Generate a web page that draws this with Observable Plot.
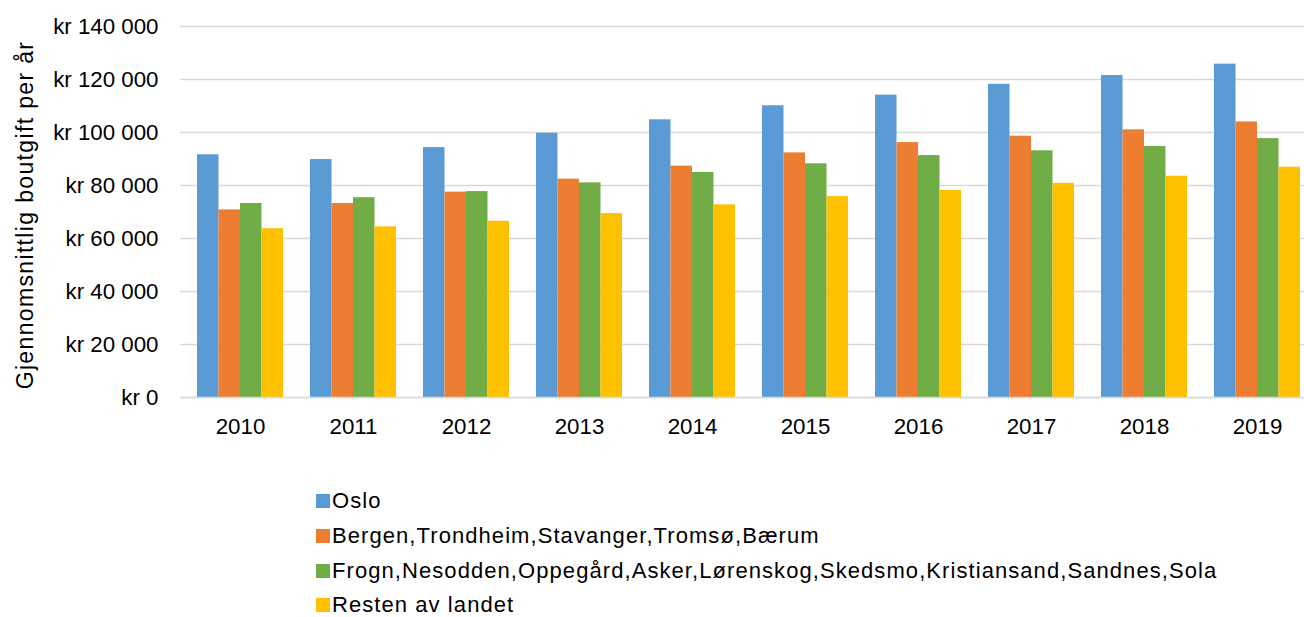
<!DOCTYPE html>
<html>
<head>
<meta charset="utf-8">
<script src="https://cdn.jsdelivr.net/npm/d3@7"></script>
<script src="https://cdn.jsdelivr.net/npm/@observablehq/plot@0.6"></script>
<style>
  html, body { margin: 0; padding: 0; background: #fff; overflow: hidden; }
  #wrap { position: relative; width: 1304px; height: 617px; overflow: hidden;
          font-family: "Liberation Sans", Arial, sans-serif; color: #000; }
  #chart { position: absolute; left: 0; top: 0; width: 1316px; }
  #chart svg { max-width: none !important; width: 1316px !important; height: 447px !important; }
  #ytitle { position: absolute; left: 25px; top: 215px; white-space: nowrap;
            transform: translate(-50%, -50%) rotate(-90deg);
            font-size: 23px; letter-spacing: 1.35px; line-height: 1; }
  #legend { position: absolute; left: 316px; top: 484px; }
  .row { display: flex; align-items: center; height: 34.7px; font-size: 22px; letter-spacing: 1.07px; }
  .sw { width: 14px; height: 14px; margin-right: 2px; flex: none; }
</style>
</head>
<body>
<div id="wrap">
  <div id="chart"></div>
  <div id="ytitle"></div>
  <div id="legend"></div>
</div>
<script>
const years = ["2010","2011","2012","2013","2014","2015","2016","2017","2018","2019"];
const seriesNames = [
  "Oslo",
  "Bergen,Trondheim,Stavanger,Tromsø,Bærum",
  "Frogn,Nesodden,Oppegård,Asker,Lørenskog,Skedsmo,Kristiansand,Sandnes,Sola",
  "Resten av landet"
];
const oslo   = [91600, 89800, 94300, 99700, 104800, 110100, 114100, 118200, 121500, 125800];
const bergen = [70800, 73200, 77500, 82400, 87300, 92300, 96200, 98600, 101000, 104000];
const frogn  = [73200, 75400, 77700, 81000, 84900, 88200, 91300, 93100, 94700, 97700];
const resten = [63700, 64400, 66500, 69400, 72700, 75800, 78100, 80800, 83500, 86900];
const colors = ["#5B9BD5", "#ED7D31", "#70AD47", "#FFC000"];
const yTicks = [0, 20000, 40000, 60000, 80000, 100000, 120000, 140000];
const yTitle = "Gjennomsnittlig boutgift per år";

const allSeries = [oslo, bergen, frogn, resten];
const rows = allSeries.map((vals, i) => years.map((y, j) => ({year: y, series: seriesNames[i], value: vals[j]})));

const width = 1316, marginLeft = 180, marginRight = 0;
const paddingInner = 0.243, paddingOuter = paddingInner / 2;
const step = (width - marginLeft - marginRight) / (years.length - paddingInner + 2 * paddingOuter);
const bandwidth = step * (1 - paddingInner);
const q = bandwidth / seriesNames.length;

const fmt = d => "kr " + d3.format(",")(d).replace(/,/g, " ");

const chart = Plot.plot({
  width,
  height: 447,
  marginLeft,
  marginRight,
  marginTop: 26,
  marginBottom: 50,
  style: { fontFamily: '"Liberation Sans", Arial, sans-serif', fontSize: "22.3px", color: "#000", background: "transparent", maxWidth: "none" },
  x: { type: "band", domain: years, paddingInner, paddingOuter, align: 0.5, tickSize: 0, tickPadding: 21, label: null },
  y: { domain: [0, 140000], ticks: yTicks, tickFormat: fmt, tickSize: 0, tickPadding: 22, label: null },
  marks: [
    Plot.ruleY(yTicks, { stroke: "#d9d9d9", strokeWidth: 1.5 }),
    ...rows.map((data, i) => Plot.barY(data, {
      x: "year", y: "value", fill: colors[i],
      insetLeft: i * q, insetRight: (seriesNames.length - 1 - i) * q
    })),
    Plot.ruleY([0], { stroke: "#d9d9d9", strokeWidth: 1.5 })
  ]
});
document.getElementById("chart").appendChild(chart);

document.getElementById("ytitle").textContent = yTitle;
const legend = document.getElementById("legend");
seriesNames.forEach((name, i) => {
  const row = document.createElement("div");
  row.className = "row";
  const sw = document.createElement("span");
  sw.className = "sw";
  sw.style.background = colors[i];
  const t = document.createElement("span");
  t.textContent = name;
  row.appendChild(sw);
  row.appendChild(t);
  legend.appendChild(row);
});
</script>
</body>
</html>
